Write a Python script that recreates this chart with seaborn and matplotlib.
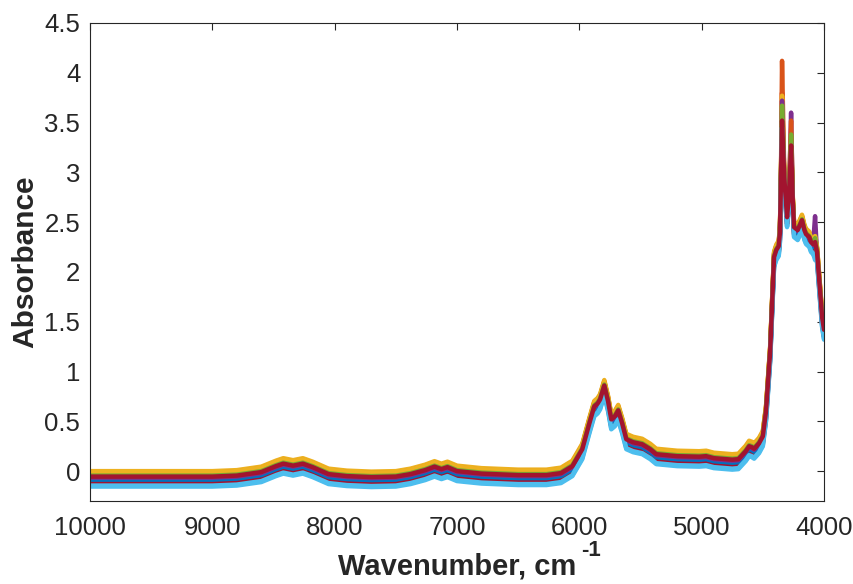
import numpy as np
import pandas as pd
import matplotlib
matplotlib.use("Agg")
import matplotlib.pyplot as plt
from matplotlib.transforms import IdentityTransform
import seaborn as sns

# ---- data ----
wavenumber = [10000, 9500, 9000, 8800, 8600, 8480, 8420, 8340, 8260, 8180, 8050, 7900,
              7700, 7500, 7380, 7260, 7184, 7127, 7078, 7000, 6800, 6500, 6269, 6150,
              6057, 5976, 5918, 5878, 5850, 5830, 5796, 5765, 5739, 5710, 5682, 5650,
              5616, 5560, 5486, 5420, 5371, 5200, 5020, 4963, 4900, 4750, 4700, 4640,
              4612, 4590, 4571, 4531, 4500, 4474, 4440, 4420, 4408, 4390, 4370, 4360,
              4352, 4343, 4325, 4302, 4285, 4269, 4255, 4245, 4215, 4180, 4160, 4147,
              4120, 4106, 4090, 4073, 4057, 4035, 4016, 4000]
base_absorbance = [-0.055, -0.055, -0.055, -0.045, -0.01, 0.05, 0.075, 0.055, 0.075, 0.04, -0.03, -0.05,
                   -0.06, -0.055, -0.03, 0.01, 0.045, 0.02, 0.04, 0.0, -0.025, -0.04, -0.04, -0.02,
                   0.05, 0.22, 0.48, 0.65, 0.68, 0.72, 0.86, 0.70, 0.52, 0.55, 0.61, 0.48,
                   0.32, 0.29, 0.27, 0.22, 0.17, 0.15, 0.145, 0.15, 0.13, 0.115, 0.12, 0.20,
                   0.25, 0.24, 0.225, 0.28, 0.35, 0.60, 1.20, 1.80, 2.15, 2.22, 2.26, 2.40,
                   2.90, 3.52, 2.95, 2.55, 2.80, 3.30, 2.70, 2.45, 2.42, 2.52, 2.42, 2.38,
                   2.35, 2.30, 2.28, 2.30, 2.20, 1.85, 1.55, 1.42]

series_names = [f"S{i+1}" for i in range(14)]
series_offset = [-0.05, 0.03, 0.055, -0.02, 0.02, -0.10, -0.07,
                 -0.03, 0.04, 0.045, -0.01, 0.01, -0.09, 0.0]
peak_4343 = [3.50, 3.80, 3.70, 3.60, 3.62, 3.40, 3.40,
             3.50, 4.12, 3.77, 3.72, 3.67, 3.45, 3.52]
peak_4269 = [3.20, 3.30, 3.25, 3.60, 3.30, 3.10, 3.15,
             3.20, 3.52, 3.30, 3.30, 3.38, 3.10, 3.27]
peak_4073 = [2.30, 2.35, 2.38, 2.56, 2.36, 2.15, 2.22,
             2.28, 2.34, 2.36, 2.32, 2.34, 2.12, 2.30]

matlab_colors = ["#0072BD", "#D95319", "#EDB120", "#7E2F8E", "#77AC30", "#4DBEEE", "#A2142F"]

# ---- build long table ----
rows = []
i1, i2, i3 = wavenumber.index(4343), wavenumber.index(4269), wavenumber.index(4073)
for k, name in enumerate(series_names):
    vals = [b + series_offset[k] for b in base_absorbance]
    vals[i1] = peak_4343[k]
    vals[i2] = peak_4269[k]
    vals[i3] = peak_4073[k]
    for w, v in zip(wavenumber, vals):
        rows.append({"wn": w, "A": v, "series": name})
df = pd.DataFrame(rows)
palette = {n: matlab_colors[k % 7] for k, n in enumerate(series_names)}

sns.set_style("white")
plt.rcParams["font.family"] = ["Liberation Sans", "DejaVu Sans"]

fig = plt.figure(figsize=(8.54, 5.84), dpi=100)
ax = fig.add_axes([90 / 854, 1 - 501 / 584, (824 - 90) / 854, (501 - 23) / 584])
sns.lineplot(data=df, x="wn", y="A", hue="series", hue_order=series_names,
             palette=palette, linewidth=3.2, legend=False, sort=False,
             estimator=None, ax=ax)

ax.set_xlim(10000, 4000)
ax.set_ylim(-0.3, 4.5)
ax.set_xticks([10000, 9000, 8000, 7000, 6000, 5000, 4000])
ax.set_xticklabels(["10000", "9000", "8000", "7000", "6000", "5000", "4000"])
ax.set_yticks([0, 0.5, 1, 1.5, 2, 2.5, 3, 3.5, 4, 4.5])
ax.set_yticklabels(["0", "0.5", "1", "1.5", "2", "2.5", "3", "3.5", "4", "4.5"])

axis_col = "#262626"
for sp in ax.spines.values():
    sp.set_visible(True)
    sp.set_color(axis_col)
    sp.set_linewidth(0.8)
ax.tick_params(axis="both", direction="in", length=5, width=0.8, color=axis_col,
               labelsize=18.5, labelcolor=axis_col, top=True, right=True)
ax.tick_params(axis="x", pad=11)
ax.tick_params(axis="y", pad=7)
ax.set_xlabel("Wavenumber, cm", fontsize=21, fontweight="bold",
              color=axis_col, labelpad=9)
ax.set_ylabel("Absorbance", fontsize=21.5, fontweight="bold", color=axis_col, labelpad=4)

# superscript -1 after the x label
fig.canvas.draw()
bb = ax.xaxis.label.get_window_extent(renderer=fig.canvas.get_renderer())
fig.text(bb.x1 + 5, bb.y1 - 3, "-1", transform=IdentityTransform(),
         fontsize=16, fontweight="bold", color=axis_col, ha="left", va="baseline")

fig.savefig("out.png", dpi=100)
